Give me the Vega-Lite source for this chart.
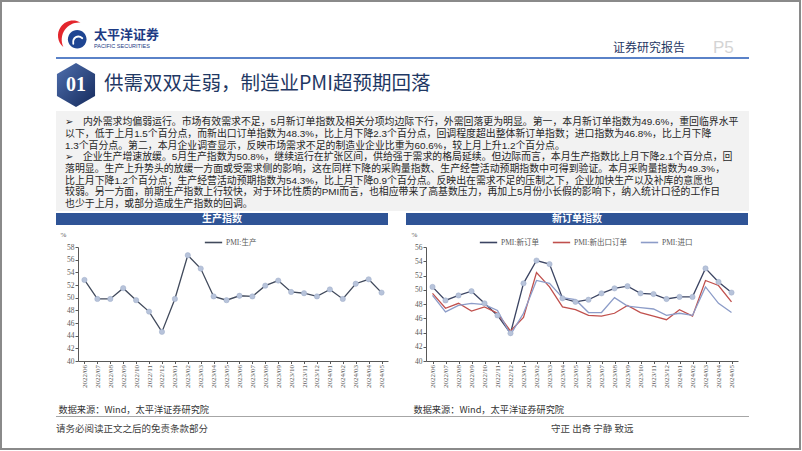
{
  "$schema": "https://vega.github.io/schema/vega-lite/v6.json",
  "background": "white",
  "padding": 0,
  "config": {
    "view": {"stroke": null},
    "font": "Noto Sans CJK SC",
    "axis": {"labelFont": "Liberation Serif", "labelFontSize": 7.5, "labelColor": "#595959", "domainColor": "#595959", "tickColor": "#595959", "tickSize": 3, "grid": false, "titleFont": "Noto Sans CJK SC", "titleFontWeight": "normal"},
    "legend": {"labelFont": "Liberation Serif, Noto Sans CJK SC", "labelFontSize": 7.5, "labelColor": "#595959", "symbolType": "stroke", "symbolSize": 300, "symbolStrokeWidth": 1.6, "columnPadding": 10, "labelOffset": 3},
    "title": {"font": "Noto Sans CJK SC", "fontWeight": "normal", "color": "#262626"}
  },
  "datasets": {
    "prod": [
      {"m": "2022/06", "s": "PMI:生产", "v": 52.8},
      {"m": "2022/07", "s": "PMI:生产", "v": 49.8},
      {"m": "2022/08", "s": "PMI:生产", "v": 49.8},
      {"m": "2022/09", "s": "PMI:生产", "v": 51.5},
      {"m": "2022/10", "s": "PMI:生产", "v": 49.6},
      {"m": "2022/11", "s": "PMI:生产", "v": 47.8},
      {"m": "2022/12", "s": "PMI:生产", "v": 44.6},
      {"m": "2023/01", "s": "PMI:生产", "v": 49.8},
      {"m": "2023/02", "s": "PMI:生产", "v": 56.7},
      {"m": "2023/03", "s": "PMI:生产", "v": 54.6},
      {"m": "2023/04", "s": "PMI:生产", "v": 50.2},
      {"m": "2023/05", "s": "PMI:生产", "v": 49.6},
      {"m": "2023/06", "s": "PMI:生产", "v": 50.3},
      {"m": "2023/07", "s": "PMI:生产", "v": 50.2},
      {"m": "2023/08", "s": "PMI:生产", "v": 51.9},
      {"m": "2023/09", "s": "PMI:生产", "v": 52.7},
      {"m": "2023/10", "s": "PMI:生产", "v": 50.9},
      {"m": "2023/11", "s": "PMI:生产", "v": 50.7},
      {"m": "2023/12", "s": "PMI:生产", "v": 50.2},
      {"m": "2024/01", "s": "PMI:生产", "v": 51.3},
      {"m": "2024/02", "s": "PMI:生产", "v": 49.8},
      {"m": "2024/03", "s": "PMI:生产", "v": 52.2},
      {"m": "2024/04", "s": "PMI:生产", "v": 52.9},
      {"m": "2024/05", "s": "PMI:生产", "v": 50.8}
    ],
    "orders": [
      {"m": "2022/06", "s": "PMI:新订单", "v": 50.4}, {"m": "2022/06", "s": "PMI:新出口订单", "v": 49.5}, {"m": "2022/06", "s": "PMI:进口", "v": 49.2},
      {"m": "2022/07", "s": "PMI:新订单", "v": 48.5}, {"m": "2022/07", "s": "PMI:新出口订单", "v": 47.4}, {"m": "2022/07", "s": "PMI:进口", "v": 46.9},
      {"m": "2022/08", "s": "PMI:新订单", "v": 49.2}, {"m": "2022/08", "s": "PMI:新出口订单", "v": 48.1}, {"m": "2022/08", "s": "PMI:进口", "v": 47.8},
      {"m": "2022/09", "s": "PMI:新订单", "v": 49.8}, {"m": "2022/09", "s": "PMI:新出口订单", "v": 47.0}, {"m": "2022/09", "s": "PMI:进口", "v": 48.1},
      {"m": "2022/10", "s": "PMI:新订单", "v": 48.1}, {"m": "2022/10", "s": "PMI:新出口订单", "v": 47.6}, {"m": "2022/10", "s": "PMI:进口", "v": 47.9},
      {"m": "2022/11", "s": "PMI:新订单", "v": 46.4}, {"m": "2022/11", "s": "PMI:新出口订单", "v": 46.7}, {"m": "2022/11", "s": "PMI:进口", "v": 47.1},
      {"m": "2022/12", "s": "PMI:新订单", "v": 43.9}, {"m": "2022/12", "s": "PMI:新出口订单", "v": 44.2}, {"m": "2022/12", "s": "PMI:进口", "v": 43.7},
      {"m": "2023/01", "s": "PMI:新订单", "v": 50.9}, {"m": "2023/01", "s": "PMI:新出口订单", "v": 46.1}, {"m": "2023/01", "s": "PMI:进口", "v": 46.7},
      {"m": "2023/02", "s": "PMI:新订单", "v": 54.1}, {"m": "2023/02", "s": "PMI:新出口订单", "v": 52.4}, {"m": "2023/02", "s": "PMI:进口", "v": 51.3},
      {"m": "2023/03", "s": "PMI:新订单", "v": 53.6}, {"m": "2023/03", "s": "PMI:新出口订单", "v": 50.4}, {"m": "2023/03", "s": "PMI:进口", "v": 50.9},
      {"m": "2023/04", "s": "PMI:新订单", "v": 48.8}, {"m": "2023/04", "s": "PMI:新出口订单", "v": 47.6}, {"m": "2023/04", "s": "PMI:进口", "v": 48.9},
      {"m": "2023/05", "s": "PMI:新订单", "v": 48.3}, {"m": "2023/05", "s": "PMI:新出口订单", "v": 47.2}, {"m": "2023/05", "s": "PMI:进口", "v": 48.6},
      {"m": "2023/06", "s": "PMI:新订单", "v": 48.6}, {"m": "2023/06", "s": "PMI:新出口订单", "v": 46.4}, {"m": "2023/06", "s": "PMI:进口", "v": 46.8},
      {"m": "2023/07", "s": "PMI:新订单", "v": 49.5}, {"m": "2023/07", "s": "PMI:新出口订单", "v": 46.3}, {"m": "2023/07", "s": "PMI:进口", "v": 46.8},
      {"m": "2023/08", "s": "PMI:新订单", "v": 50.2}, {"m": "2023/08", "s": "PMI:新出口订单", "v": 46.7}, {"m": "2023/08", "s": "PMI:进口", "v": 48.9},
      {"m": "2023/09", "s": "PMI:新订单", "v": 50.5}, {"m": "2023/09", "s": "PMI:新出口订单", "v": 47.8}, {"m": "2023/09", "s": "PMI:进口", "v": 47.7},
      {"m": "2023/10", "s": "PMI:新订单", "v": 49.5}, {"m": "2023/10", "s": "PMI:新出口订单", "v": 46.8}, {"m": "2023/10", "s": "PMI:进口", "v": 47.5},
      {"m": "2023/11", "s": "PMI:新订单", "v": 49.4}, {"m": "2023/11", "s": "PMI:新出口订单", "v": 46.3}, {"m": "2023/11", "s": "PMI:进口", "v": 47.3},
      {"m": "2023/12", "s": "PMI:新订单", "v": 48.7}, {"m": "2023/12", "s": "PMI:新出口订单", "v": 45.8}, {"m": "2023/12", "s": "PMI:进口", "v": 46.4},
      {"m": "2024/01", "s": "PMI:新订单", "v": 49.0}, {"m": "2024/01", "s": "PMI:新出口订单", "v": 47.2}, {"m": "2024/01", "s": "PMI:进口", "v": 46.7},
      {"m": "2024/02", "s": "PMI:新订单", "v": 49.0}, {"m": "2024/02", "s": "PMI:新出口订单", "v": 46.3}, {"m": "2024/02", "s": "PMI:进口", "v": 46.4},
      {"m": "2024/03", "s": "PMI:新订单", "v": 53.0}, {"m": "2024/03", "s": "PMI:新出口订单", "v": 51.3}, {"m": "2024/03", "s": "PMI:进口", "v": 50.4},
      {"m": "2024/04", "s": "PMI:新订单", "v": 51.1}, {"m": "2024/04", "s": "PMI:新出口订单", "v": 50.6}, {"m": "2024/04", "s": "PMI:进口", "v": 48.1},
      {"m": "2024/05", "s": "PMI:新订单", "v": 49.6}, {"m": "2024/05", "s": "PMI:新出口订单", "v": 48.3}, {"m": "2024/05", "s": "PMI:进口", "v": 46.8}
    ]
  },
  "spacing": 0,
  "bounds": "flush",
  "vconcat": [
    {
      "hconcat": [
        {"width": 799, "height": 448, "view": {"stroke": "#8a8a8a", "strokeWidth": 2, "fill": null}, "data": {"values": []}, "mark": "text", "encoding": {}}
      ],
      "spacing": 0,
      "bounds": "flush"
    },
    {"width": 1, "height": 15, "data": {"values": []}, "mark": "text", "encoding": {}},
    {
      "hconcat": [
        {"width": 55, "height": 39, "data": {"values": []}, "mark": "text", "encoding": {}},
        {
          "width": 34, "height": 39,
          "data": {"values": [{"k": 1}]},
          "layer": [
            {"mark": {"type": "point", "shape": "M0.5,-0.866A1,1,0,0,0,-0.643,0.766A1.15,1.15,0,0,1,0.5,-0.866Z", "size": 900, "filled": true, "fill": "#e3262d", "opacity": 1}, "encoding": {}},
            {"mark": {"type": "point", "shape": "M0.9,0.25A0.62,0.62,0,1,1,-0.34,0.25A0.62,0.62,0,1,1,0.9,0.25Z", "size": 900, "filled": true, "fill": "#1f4592", "opacity": 1}, "encoding": {}},
            {"mark": {"type": "point", "shape": "M0.02,0.55C-0.05,0.1,0.35,-0.05,0.62,0.18", "size": 900, "filled": false, "stroke": "white", "strokeWidth": 1.8, "strokeJoin": "round", "strokeCap": "round", "opacity": 1}, "encoding": {}}
          ]
        },
        {
          "width": 519, "height": 39,
          "data": {"values": []}, "mark": "text", "encoding": {},
          "title": {"text": "太平洋证券", "subtitle": "PACIFIC SECURITIES", "orient": "bottom", "anchor": "start", "offset": -26, "dx": 4, "font": "Liberation Sans, Noto Sans CJK SC", "fontSize": 13, "fontWeight": "bold", "color": "#1d3b84", "subtitleFont": "Liberation Sans", "subtitleFontSize": 5.5, "subtitleColor": "#1d3b84", "subtitlePadding": 2}
        },
        {
          "width": 100, "height": 39,
          "data": {"values": []}, "mark": "text", "encoding": {},
          "title": {"text": "证券研究报告", "orient": "bottom", "anchor": "start", "offset": -12, "dx": 4, "fontSize": 12, "color": "#1f3864"}
        },
        {
          "width": 40, "height": 39,
          "data": {"values": []}, "mark": "text", "encoding": {},
          "title": {"text": "P5", "orient": "bottom", "anchor": "start", "offset": -15, "dx": 4, "fontSize": 17, "font": "Liberation Sans", "color": "#d4d4d4"}
        }
      ],
      "spacing": 0,
      "bounds": "flush"
    },
    {"width": 1, "height": 41, "data": {"values": []}, "mark": "text", "encoding": {}},
    {
      "hconcat": [
        {"width": 55, "height": 2, "data": {"values": []}, "mark": "text", "encoding": {}},
        {"width": 693, "height": 2, "view": {"fill": "#5a82c8", "stroke": null}, "data": {"values": []}, "mark": "text", "encoding": {}}
      ],
      "spacing": 0,
      "bounds": "flush"
    },
    {"width": 1, "height": 4, "data": {"values": []}, "mark": "text", "encoding": {}},
    {
      "hconcat": [
        {"width": 55, "height": 48, "data": {"values": []}, "mark": "text", "encoding": {}},
        {
          "width": 40, "height": 48,
          "data": {"values": [{"t": "01"}]},
          "layer": [
            {"mark": {"type": "point", "shape": "M0,-1L0.866,-0.5L0.866,0.5L0,1L-0.866,0.5L-0.866,-0.5Z", "size": 1936, "filled": true, "opacity": 1, "fill": {"gradient": "linear", "x1": 0, "y1": 0, "x2": 1, "y2": 1, "stops": [{"offset": 0, "color": "#4f6fae"}, {"offset": 1, "color": "#152a5c"}]}}, "encoding": {}},
            {"mark": {"type": "text", "fontSize": 20, "font": "Liberation Serif", "fontWeight": "bold", "color": "white"}, "encoding": {"text": {"field": "t"}}}
          ]
        },
        {
          "width": 600, "height": 48,
          "data": {"values": []}, "mark": "text", "encoding": {},
          "title": {"text": "供需双双走弱，制造业PMI超预期回落", "orient": "bottom", "anchor": "start", "offset": -34, "dx": 8, "fontSize": 19.5, "color": "#1f3864"}
        }
      ],
      "spacing": 0,
      "bounds": "flush"
    },
    {"width": 1, "height": 50, "data": {"values": []}, "mark": "text", "encoding": {}},
    {
      "hconcat": [
        {"width": 55, "height": 100, "data": {"values": []}, "mark": "text", "encoding": {}},
        {
          "width": 693, "height": 100,
          "view": {"fill": "#f2f2f2", "stroke": null},
          "data": {"values": []}, "mark": "text", "encoding": {},
          "title": {
            "text": [
              "\u27a2\u3000内外需求均偏弱运行。市场有效需求不足，5月新订单指数及相关分项均边际下行，外需回落更为明显。第一，本月新订单指数为49.6%，重回临界水平",
              "\u3000\u2002\u2005以下，低于上月1.5个百分点，而新出口订单指数为48.3%，比上月下降2.3个百分点，回调程度超出整体新订单指数；进口指数为46.8%，比上月下降",
              "\u3000\u2002\u20051.3个百分点。第二，本月企业调查显示，反映市场需求不足的制造业企业比重为60.6%，较上月上升1.2个百分点。",
              "\u27a2\u3000企业生产增速放缓。5月生产指数为50.8%，继续运行在扩张区间，供给强于需求的格局延续。但边际而言，本月生产指数比上月下降2.1个百分点，回",
              "\u3000\u2002\u2005落明显。生产上升势头的放缓一方面或受需求侧的影响，这在同样下降的采购量指数、生产经营活动预期指数中可得到验证。本月采购量指数为49.3%，",
              "\u3000\u2002\u2005比上月下降1.2个百分点；生产经营活动预期指数为54.3%，比上月下降0.9个百分点。反映出在需求不足的压制之下，企业加快生产以及补库的意愿也",
              "\u3000\u2002\u2005较弱。另一方面，前期生产指数上行较快，对于环比性质的PMI而言，也相应带来了高基数压力，再加上5月份小长假的影响下，纳入统计口径的工作日",
              "\u3000\u2002\u2005也少于上月，或部分造成生产指数的回调。"
            ],
            "orient": "top", "anchor": "start", "baseline": "top", "offset": -98, "dx": 9, "font": "Liberation Sans, Noto Sans CJK SC", "fontSize": 9.9, "lineHeight": 11.7, "color": "#262626"
          }
        }
      ],
      "spacing": 0,
      "bounds": "flush"
    },
    {"width": 1, "height": 102, "data": {"values": []}, "mark": "text", "encoding": {}},
    {
      "hconcat": [
        {"width": 55, "height": 12, "data": {"values": []}, "mark": "text", "encoding": {}},
        {
          "width": 332, "height": 12,
          "view": {"fill": "#2f5496", "stroke": null},
          "data": {"values": [{"t": "生产指数"}]},
          "mark": {"type": "text", "color": "white", "fontSize": 10, "fontWeight": "bold"},
          "encoding": {"text": {"field": "t"}}
        },
        {"width": 18, "height": 12, "data": {"values": []}, "mark": "text", "encoding": {}},
        {
          "width": 342, "height": 12,
          "view": {"fill": "#2f5496", "stroke": null},
          "data": {"values": [{"t": "新订单指数"}]},
          "mark": {"type": "text", "color": "white", "fontSize": 10, "fontWeight": "bold"},
          "encoding": {"text": {"field": "t"}}
        }
      ],
      "spacing": 0,
      "bounds": "flush"
    },
    {"width": 1, "height": 34, "data": {"values": []}, "mark": "text", "encoding": {}},
    {
      "hconcat": [
        {"width": 77, "height": 114, "data": {"values": []}, "mark": "text", "encoding": {}},
        {
          "width": 310, "height": 114,
          "data": {"name": "prod"},
          "encoding": {
            "x": {"field": "m", "type": "ordinal", "sort": null, "scale": {"type": "point", "padding": 0.5},
              "axis": {"labelAngle": 270, "labelFontSize": 7, "labelPadding": 1, "tickSize": 2.5, "title": "数据来源：Wind，太平洋证券研究院", "titleAnchor": "start", "titleAlign": "left", "titleX": -20, "titleY": 48, "titleBaseline": "middle", "titleFontSize": 9.2, "titleColor": "#333333"}},
            "y": {"field": "v", "type": "quantitative", "scale": {"domain": [40, 58], "nice": false, "zero": false},
              "axis": {"values": [40, 42, 44, 46, 48, 50, 52, 54, 56, 58], "title": "%", "titleAngle": 0, "titleX": -15, "titleY": -13, "titleAlign": "center", "titleBaseline": "middle", "titleFont": "Liberation Serif", "titleFontSize": 7, "titleColor": "#595959", "labelPadding": 1}}
          },
          "layer": [
            {"mark": {"type": "line", "strokeWidth": 1.3},
              "encoding": {"color": {"field": "s", "type": "nominal", "scale": {"range": ["#414a5c"]}, "legend": {"orient": "none", "legendX": 126, "legendY": -14, "direction": "horizontal", "title": null}}}},
            {"mark": {"type": "point", "filled": true, "size": 28, "fill": "#b7c3da", "stroke": "#9fadc9", "strokeWidth": 0.5, "opacity": 1}}
          ]
        },
        {"width": 38, "height": 114, "data": {"values": []}, "mark": "text", "encoding": {}},
        {
          "width": 312, "height": 114,
          "data": {"name": "orders"},
          "encoding": {
            "x": {"field": "m", "type": "ordinal", "sort": null, "scale": {"type": "point", "padding": 0.5},
              "axis": {"labelAngle": 270, "labelFontSize": 7, "labelPadding": 1, "tickSize": 2.5, "title": "数据来源：Wind，太平洋证券研究院", "titleAnchor": "start", "titleAlign": "left", "titleX": -13, "titleY": 48, "titleBaseline": "middle", "titleFontSize": 9.2, "titleColor": "#333333"}},
            "y": {"field": "v", "type": "quantitative", "scale": {"domain": [40, 56], "nice": false, "zero": false},
              "axis": {"values": [40, 42, 44, 46, 48, 50, 52, 54, 56], "title": "%", "titleAngle": 0, "titleX": -12, "titleY": -13, "titleAlign": "center", "titleBaseline": "middle", "titleFont": "Liberation Serif", "titleFontSize": 7, "titleColor": "#595959", "labelPadding": 1}}
          },
          "layer": [
            {"mark": {"type": "line", "strokeWidth": 1.3},
              "encoding": {"color": {"field": "s", "type": "nominal", "scale": {"domain": ["PMI:新订单", "PMI:新出口订单", "PMI:进口"], "range": ["#3b4462", "#c0504d", "#8c9cc8"]}, "legend": {"orient": "none", "legendX": 53, "legendY": -14, "direction": "horizontal", "title": null}}}},
            {"transform": [{"filter": "datum.s === 'PMI:新订单'"}],
              "mark": {"type": "point", "filled": true, "size": 28, "fill": "#b7c3da", "stroke": "#9fadc9", "strokeWidth": 0.5, "opacity": 1}}
          ]
        }
      ],
      "spacing": 0,
      "bounds": "flush",
      "resolve": {"scale": {"x": "independent", "y": "independent", "color": "independent"}, "legend": {"color": "independent"}, "axis": {"x": "independent", "y": "independent"}}
    },
    {"width": 1, "height": 169, "data": {"values": []}, "mark": "text", "encoding": {}},
    {
      "hconcat": [
        {"width": 55, "height": 1, "data": {"values": []}, "mark": "text", "encoding": {}},
        {
          "width": 495, "height": 1,
          "view": {"fill": "#a6a6a6", "stroke": null},
          "data": {"values": []}, "mark": "text", "encoding": {},
          "title": {"text": "请务必阅读正文之后的免责条款部分", "orient": "bottom", "anchor": "start", "offset": 7, "fontSize": 9.5, "color": "#404040"}
        },
        {
          "width": 198, "height": 1,
          "view": {"fill": "#a6a6a6", "stroke": null},
          "data": {"values": []}, "mark": "text", "encoding": {},
          "title": {"text": "守正 出奇 宁静 致远", "orient": "bottom", "anchor": "start", "offset": 7, "fontSize": 9.5, "color": "#404040"}
        }
      ],
      "spacing": 0,
      "bounds": "flush"
    }
  ]
}
